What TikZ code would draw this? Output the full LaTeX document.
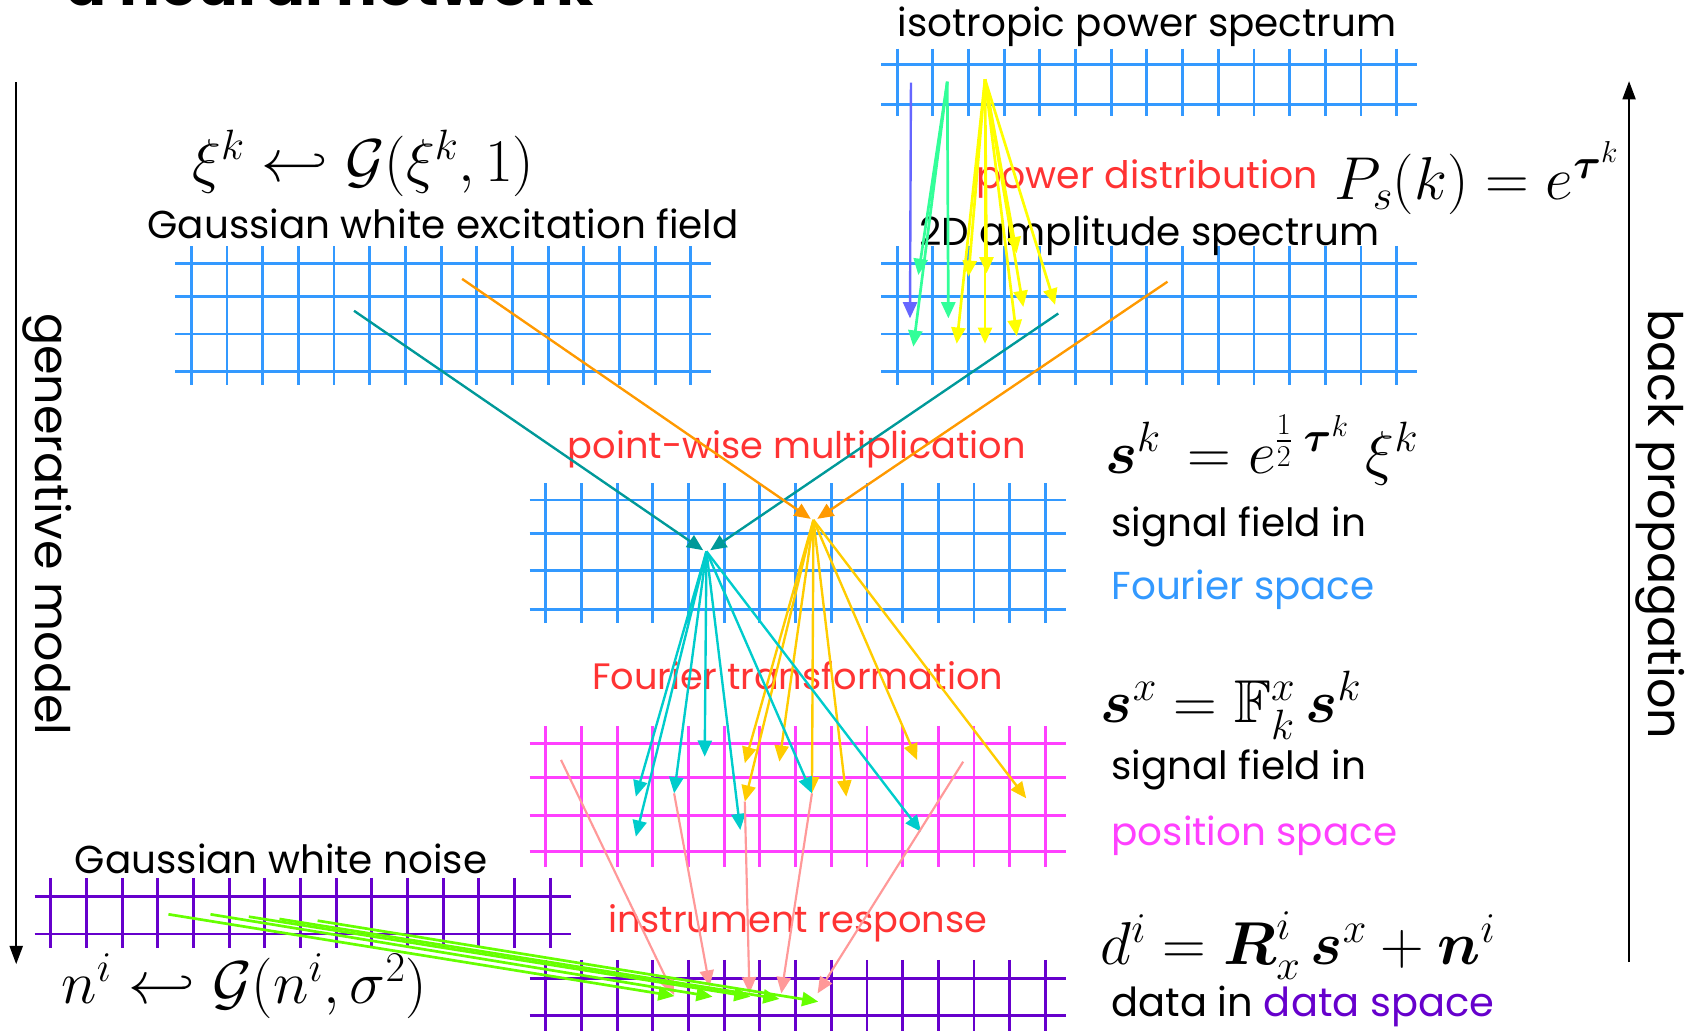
\RequirePackage{fix-cm}
\documentclass[tikz,border=0pt]{standalone}
\usepackage{amsmath,amssymb}
\usepackage{fontspec}
\setmainfont{Poppins}
\usetikzlibrary{arrows.meta}

\definecolor{tealc}{RGB}{0,153,153}
\definecolor{orangec}{RGB}{255,153,0}
\definecolor{cyanc}{RGB}{0,204,204}
\definecolor{goldc}{RGB}{255,204,0}
\definecolor{pinkc}{RGB}{255,153,153}
\definecolor{limec}{RGB}{102,255,0}
\definecolor{violetc}{RGB}{102,102,255}
\definecolor{springc}{RGB}{51,255,153}
\definecolor{yellowc}{RGB}{255,255,0}
\definecolor{redc}{RGB}{255,51,51}
\definecolor{fblue}{RGB}{51,153,255}
\definecolor{magc}{RGB}{255,64,255}
\definecolor{purpc}{RGB}{102,0,204}

\newcommand\fieldgrid[5]{%
  \foreach \yy in {#2}{\draw[#5] (#1,\yy) -- ({#1+496},\yy);}%
  \foreach \ii in {0,...,14}{\draw[#5] ({#1+15+33*\ii},#3) -- ({#1+15+33*\ii},#4);}%
}

\begin{document}
\begin{tikzpicture}[x=1pt,y=-1pt,
  gridline/.style={line width=2.7pt},
  bluegrid/.style={gridline,draw=fblue},
  maggrid/.style={gridline,draw=magc},
  purpgrid/.style={gridline,draw=purpc},
  conn/.style={line width=2.2pt,-{Triangle[length=15pt,width=13pt]}},
  bigarrow/.style={line width=2.2pt,draw=black,-{Triangle[length=17pt,width=12pt]}},
  txt/.style={font=\fontsize{36}{44}\selectfont,inner sep=0pt,anchor=base},
  redtxt/.style={font=\fontsize{34}{40}\selectfont,inner sep=0pt,anchor=base,text=redc},
  sidetxt/.style={font=\fontsize{44}{52}\selectfont,inner sep=0pt,anchor=center,rotate=-90},
  mth/.style={font=\fontsize{56}{66}\selectfont,inner sep=0pt,anchor=base},
]
\useasboundingbox (0,0) rectangle (1568,953);
\clip (0,0) rectangle (1568,953);

% ---------- title (cut off at the top) ----------
\node[font=\fontsize{56}{66}\selectfont\bfseries,inner sep=0pt,anchor=base] (title) at (305,5) {a neural network};

% ---------- grids ----------
\fieldgrid{815}{60,97}{45}{107}{bluegrid}
\fieldgrid{815}{244,274,309,344}{228}{356}{bluegrid}
\fieldgrid{162}{244,274,309,344}{228}{356}{bluegrid}
\fieldgrid{490}{462.5,493.5,528,563.5}{447}{576}{bluegrid}
\fieldgrid{490}{688,719,754,788}{672}{802}{maggrid}
\fieldgrid{490}{905,939}{888}{958}{purpgrid}
\fieldgrid{32}{829,864}{812}{877}{purpgrid}

% ---------- labels ----------
\node[txt] (iso) at (1061,34) {isotropic power spectrum};
\node[mth] (xieq) at (336,168) {$\xi^k \hookleftarrow \mathcal{G}(\xi^k,1)$};
\node[txt] (gwef) at (410,221) {Gaussian white excitation field};
\node[redtxt,font=\fontsize{35}{40}\selectfont] (pd) at (1061,174) {power distribution};
\node[mth] (pseq) at (1366,185) {$P_s(k) = e^{\boldsymbol{\tau}^k}$};
\node[txt] (amp) at (1063,227) {2D amplitude spectrum};
\node[redtxt] (pwm) at (737,424) {point-wise multiplication};
\node[mth,anchor=base west] (skeq) at (1022,438) {$\boldsymbol{s}^k\, = e^{\frac{1}{2}\;\boldsymbol{\tau}^k}\;\xi^k$};
\node[txt,anchor=base west] (sf1) at (1028,496) {signal field in};
\node[txt,anchor=base west,text=fblue] (fs) at (1028,555) {Fourier space};
\node[redtxt] (ft) at (738,638) {Fourier transformation};
\node[mth,anchor=base west] (sxeq) at (1018,668) {$\boldsymbol{s}^x = \mathbb{F}^x_k\,\boldsymbol{s}^k$};
\node[txt,anchor=base west] (sf2) at (1028,721) {signal field in};
\node[txt,anchor=base west,text=magc] (ps) at (1028,782) {position space};
\node[txt] (gwn) at (260,808) {Gaussian white noise};
\node[redtxt] (ir) at (738,863) {instrument response};
\node[mth,anchor=base west] (dieq) at (1018,892) {$d^i = \boldsymbol{R}^i_x\,\boldsymbol{s}^x + \boldsymbol{n}^i$};
\node[txt,anchor=base west,font=\fontsize{37}{44}\selectfont] (dis) at (1028,940) {data in \textcolor{purpc}{data space}};
\node[mth] (nieq) at (226,928) {$n^i \hookleftarrow \mathcal{G}(n^i,\sigma^2)$};
\node[sidetxt] (gm) at (44,485) {generative model};
\node[sidetxt] (bp) at (1536,485) {back propagation};

% ---------- big direction arrows ----------
\coordinate (gtop) at (15,76);
\coordinate (gbot) at (15,892);
\coordinate (btop) at (1507,75);
\coordinate (bbot) at (1507,890);
\draw[bigarrow] (gtop) -- (gbot);
\draw[bigarrow] (bbot) -- (btop);

% ---------- power distribution arrows ----------
\coordinate (pv) at (842.7,76.5);
\coordinate (pg) at (876.3,75.6);
\coordinate (py) at (911.2,73.4);
\coordinate (av1) at (841.8,294.5);
\coordinate (ag1) at (849.5,254.4);
\coordinate (ag2) at (844.9,320.7);
\coordinate (ag3) at (877.3,294.5);
\coordinate (ay1) at (895.8,256);
\coordinate (ay2) at (912.7,252.8);
\coordinate (ay3) at (940.5,234.3);
\coordinate (ay4) at (885,318);
\coordinate (ay5) at (911.2,318);
\coordinate (ay6) at (940.5,311);
\coordinate (ay7) at (946.6,284);
\coordinate (ay8) at (976,282);
\draw[conn,violetc] (pv) -- (av1);
\foreach \t in {ag1,ag2,ag3}{\draw[conn,springc,line width=2.5pt] (pg) -- (\t);}
\foreach \t in {ay1,ay2,ay3,ay4,ay5,ay6,ay7,ay8}{\draw[conn,yellowc,line width=2.5pt] (py) -- (\t);}

% ---------- point-wise multiplication ----------
\coordinate (tB) at (327.5,287.5);
\coordinate (tA) at (979,290);
\coordinate (oB) at (427.5,258);
\coordinate (oA) at (1080,260.6);
\coordinate (mk) at (653.5,510);
\coordinate (mkL) at (650.5,509);
\coordinate (mkR) at (657,509);
\coordinate (mt) at (752.5,481);
\coordinate (mtL) at (750,480);
\coordinate (mtR) at (756,480);
\draw[conn,tealc] (tB) -- (mkL);
\draw[conn,tealc] (tA) -- (mkR);
\draw[conn,orangec] (oB) -- (mtL);
\draw[conn,orangec] (oA) -- (mtR);

% ---------- Fourier transformation ----------
\coordinate (c1) at (588.2,737);
\coordinate (c2) at (588.2,774);
\coordinate (c3) at (623.6,733.9);
\coordinate (c4) at (651.9,700);
\coordinate (c5) at (684.8,767.8);
\coordinate (c6) at (751.1,733.9);
\coordinate (c7) at (852,769.4);
\coordinate (g1) at (689,706);
\coordinate (g2) at (689,741.6);
\coordinate (g3) at (721,704.6);
\coordinate (g5) at (782.9,737);
\coordinate (g6) at (848.4,703);
\coordinate (g7) at (949.3,738.5);
\foreach \t in {g1,g2,g3,c6,g5,g6,g7}{\draw[conn,goldc] (mt) -- (\t);}
\foreach \t in {c1,c2,c3,c4,c5,c6,c7}{\draw[conn,cyanc] (mk) -- (\t);}

% ---------- instrument response ----------
\coordinate (p1s) at (519,703);
\coordinate (p5s) at (891,704.6);
\coordinate (p1t) at (623.6,920.5);
\coordinate (p2t) at (656.5,912.7);
\coordinate (p3t) at (693.3,918.9);
\coordinate (p4t) at (722.8,918.9);
\coordinate (p5t) at (756.3,918.9);
\draw[conn,pinkc,line width=2pt] (p1s) -- (p1t);
\draw[conn,pinkc,line width=2pt] (c3) -- (p2t);
\draw[conn,pinkc,line width=2pt] (g2) -- (p3t);
\draw[conn,pinkc,line width=2pt] (c6) -- (p4t);
\draw[conn,pinkc,line width=2pt] (p5s) -- (p5t);

% ---------- noise ----------
\coordinate (n1) at (155.8,845.8);
\coordinate (n2) at (194.7,845.8);
\coordinate (n3) at (230.2,848);
\coordinate (n4) at (258.5,850.1);
\coordinate (n5) at (293.8,851.7);
\coordinate (d1) at (624,921.4);
\coordinate (d2) at (659.2,922);
\coordinate (d3) at (694.2,922);
\coordinate (d4) at (721.1,924.1);
\coordinate (d5) at (757,926.6);
\foreach \s/\t in {n1/d1,n2/d2,n3/d3,n4/d4,n5/d5}{\draw[conn,limec,line width=2.5pt] (\s) -- (\t);}
\end{tikzpicture}
\end{document}
